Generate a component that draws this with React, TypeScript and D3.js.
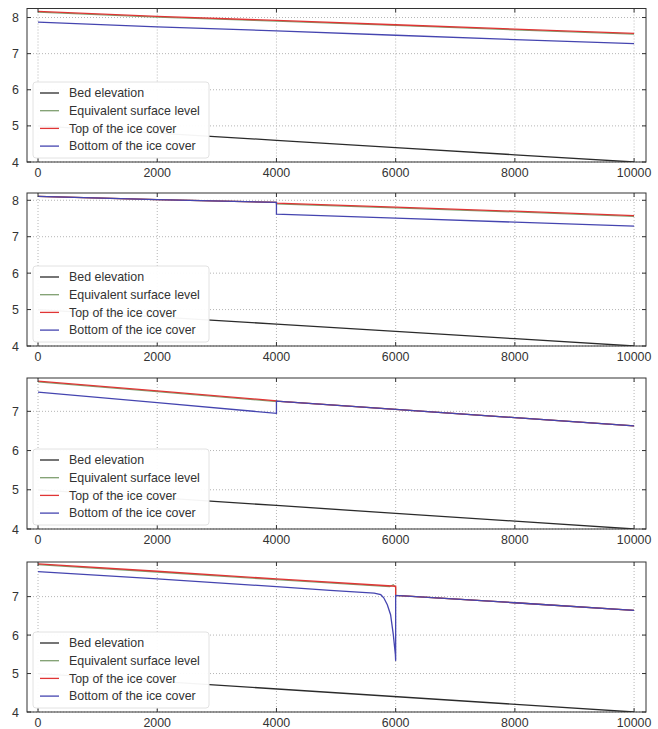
import React from "react";
import * as d3 from "d3";

const W = 658;
const H = 729;

const xTicks = [0, 2000, 4000, 6000, 8000, 10000];
const legendNames = ["Bed elevation", "Equivalent surface level", "Top of the ice cover", "Bottom of the ice cover"];
const seriesColors = ["#2b2b2b", "#7f9f6f", "#e03535", "#4545b0"];

// panel 1 - ice cover over the whole reach
const x1 = [0, 2000, 4000, 6000, 8000, 10000];
const bed1 = [5.0, 4.8, 4.6, 4.4, 4.2, 4.0];
const eq1 = [8.15, 8.01, 7.9, 7.78, 7.66, 7.54];
const top1 = [8.17, 8.03, 7.92, 7.8, 7.68, 7.56];
const bottom1 = [7.87, 7.74, 7.63, 7.51, 7.39, 7.28];

// panel 2 - ice starts at 4000
const x2 = [0, 2000, 4000, 4000, 6000, 8000, 10000];
const bed2 = [5.0, 4.8, 4.6, 4.6, 4.4, 4.2, 4.0];
const eq2 = [8.11, 8.02, 7.94, 7.9, 7.79, 7.68, 7.56];
const top2 = [8.11, 8.02, 7.94, 7.92, 7.81, 7.7, 7.58];
const bottom2 = [8.11, 8.02, 7.94, 7.62, 7.51, 7.4, 7.29];

// panel 3 - ice ends at 4000
const x3 = [0, 2000, 4000, 4000, 6000, 8000, 10000];
const bed3 = [5.0, 4.8, 4.6, 4.6, 4.4, 4.2, 4.0];
const eq3 = [7.75, 7.5, 7.25, 7.26, 7.05, 6.84, 6.63];
const top3 = [7.77, 7.52, 7.27, 7.26, 7.05, 6.84, 6.63];
const bottom3 = [7.49, 7.22, 6.95, 7.26, 7.05, 6.84, 6.63];

// panel 4 - ice ends at 6000 with a dip at the edge
const x4Bed = [0, 10000];
const bed4 = [5.0, 4.0];
const x4Eq = [0, 2000, 4000, 5900, 5960, 6000, 6000, 8000, 10000];
const eq4 = [7.83, 7.64, 7.44, 7.26, 7.31, 7.24, 7.03, 6.84, 6.64];
const x4Top = [0, 2000, 4000, 6000, 6000, 8000, 10000];
const top4 = [7.85, 7.66, 7.46, 7.27, 7.03, 6.84, 6.64];
const x4Bottom = [0, 2000, 4000, 4900, 5640, 5750, 5800, 5860, 5915, 5960, 5995, 6000, 6000, 8000, 10000];
const bottom4 = [7.65, 7.46, 7.26, 7.16, 7.09, 7.05, 6.97, 6.79, 6.53, 6.02, 5.5, 5.33, 7.03, 6.84, 6.64];

const left = 27;
const right = 646;

const panels = [
  { top: 8.5, bottom: 162, yMax: 8.25, yTicks: [4, 5, 6, 7, 8], series: [[x1, bed1], [x1, eq1], [x1, top1], [x1, bottom1]] },
  { top: 193, bottom: 346, yMax: 8.2, yTicks: [4, 5, 6, 7, 8], series: [[x2, bed2], [x2, eq2], [x2, top2], [x2, bottom2]] },
  { top: 378, bottom: 529, yMax: 7.85, yTicks: [4, 5, 6, 7], series: [[x3, bed3], [x3, eq3], [x3, top3], [x3, bottom3]] },
  { top: 562, bottom: 712, yMax: 7.9, yTicks: [4, 5, 6, 7], series: [[x4Bed, bed4], [x4Eq, eq4], [x4Top, top4], [x4Bottom, bottom4]] },
];

const font = "'Liberation Sans', Arial, sans-serif";

function Panel({ p, idx }: any) {
  const x = d3.scaleLinear().domain([-185, 10200]).range([left, right]);
  const y = d3.scaleLinear().domain([4, p.yMax]).range([p.bottom, p.top]);
  const line = d3.line<[number, number]>().x(d => x(d[0])).y(d => y(d[1]));
  const clipId = "clip" + idx;
  const legX = left + 6;
  const legY = p.bottom - 80;

  return (
    <g>
      <defs>
        <clipPath id={clipId}>
          <rect x={left} y={p.top} width={right - left} height={p.bottom - p.top} />
        </clipPath>
      </defs>
      <rect x={left} y={p.top} width={right - left} height={p.bottom - p.top} fill="#fff" />
      {/* grid */}
      {xTicks.map(t => (
        <line key={"gx" + t} x1={x(t)} x2={x(t)} y1={p.top} y2={p.bottom} stroke="#b5b5b5" strokeDasharray="1,2" />
      ))}
      {p.yTicks.map((t: number) => (
        <line key={"gy" + t} x1={left} x2={right} y1={y(t)} y2={y(t)} stroke="#b5b5b5" strokeDasharray="1,2" />
      ))}
      {/* series */}
      <g clipPath={`url(#${clipId})`}>
        {p.series.map((s: number[][], i: number) => {
          const pts = s[0].map((xv, j) => [xv, s[1][j]] as [number, number]);
          return <path key={i} d={line(pts) || ""} fill="none" stroke={seriesColors[i]} strokeWidth={1.3} />;
        })}
      </g>
      {/* ticks */}
      {xTicks.map(t => (
        <g key={"tx" + t}>
          <line x1={x(t)} x2={x(t)} y1={p.bottom} y2={p.bottom - 4} stroke="#333" />
          <line x1={x(t)} x2={x(t)} y1={p.top} y2={p.top + 4} stroke="#333" />
          <text x={x(t)} y={p.bottom + 15} textAnchor="middle" fontFamily={font} fontSize={12.4} fill="#333">{t}</text>
        </g>
      ))}
      {p.yTicks.map((t: number) => (
        <g key={"ty" + t}>
          <line x1={left} x2={left + 4} y1={y(t)} y2={y(t)} stroke="#333" />
          <line x1={right} x2={right - 4} y1={y(t)} y2={y(t)} stroke="#333" />
          <text x={left - 8} y={y(t) + 4.5} textAnchor="end" fontFamily={font} fontSize={12.4} fill="#333">{t}</text>
        </g>
      ))}
      {/* legend */}
      <rect x={legX} y={legY} width={176} height={76} rx={3} fill="#fff" fillOpacity={0.95} stroke="#e2e2e2" />
      {legendNames.map((name, i) => {
        const ly = p.bottom - 69 + i * 17.7;
        return (
          <g key={name}>
            <line x1={40} x2={59} y1={ly} y2={ly} stroke={seriesColors[i]} strokeWidth={1.3} />
            <text x={69} y={ly + 4.3} fontFamily={font} fontSize={12.4} fill="#333">{name}</text>
          </g>
        );
      })}
      <rect x={left} y={p.top} width={right - left} height={p.bottom - p.top} fill="none" stroke="#333" strokeWidth={1} />
    </g>
  );
}

export default function App() {
  return (
    <svg width={W} height={H} style={{ position: "absolute", left: 0, top: 0, background: "#fff" }}>
      {panels.map((p, i) => (
        <Panel key={i} p={p} idx={i} />
      ))}
    </svg>
  );
}
